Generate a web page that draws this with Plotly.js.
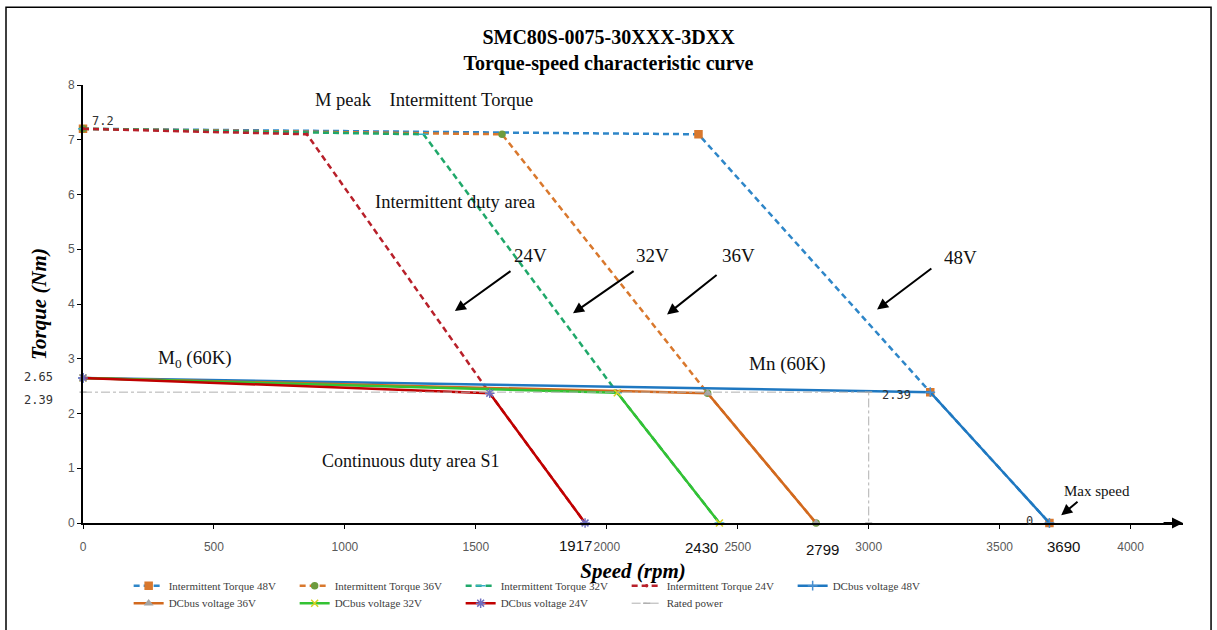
<!DOCTYPE html>
<html>
<head>
<meta charset="utf-8">
<script src="https://cdn.plot.ly/plotly-3.0.1.min.js"></script>
<style>html,body{margin:0;padding:0;background:#fff;}#chart{width:1217px;height:630px;}</style>
</head>
<body>
<div id="chart"></div>
<script>
// ---- data (speed rpm, torque Nm) ----
const seriesNames = ["Intermittent Torque 48V","Intermittent Torque 36V","Intermittent Torque 32V","Intermittent Torque 24V",
  "DCbus voltage 48V","DCbus voltage 36V","DCbus voltage 32V","DCbus voltage 24V","Rated power"];
const speedInt48 = [0, 2350, 3235, 3690];
const torqueInt48 = [7.2, 7.1, 2.39, 0];
const speedInt36 = [0, 1600, 2385, 2799];
const torqueInt36 = [7.2, 7.1, 2.37, 0];
const speedInt32 = [0, 1300, 2040, 2430];
const torqueInt32 = [7.2, 7.1, 2.38, 0];
const speedInt24 = [0, 855, 1553, 1917];
const torqueInt24 = [7.2, 7.1, 2.37, 0];
const speedDc48 = [0, 3235, 3690];
const torqueDc48 = [2.65, 2.39, 0];
const speedDc36 = [0, 2385, 2799];
const torqueDc36 = [2.65, 2.37, 0];
const speedDc32 = [0, 2040, 2430];
const torqueDc32 = [2.65, 2.38, 0];
const speedDc24 = [0, 1553, 1917];
const torqueDc24 = [2.65, 2.37, 0];
const speedRated = [0, 3000, 3000];
const torqueRated = [2.39, 2.39, 0];
const xTickVals = [0, 500, 1000, 1500, 2000, 2500, 3000, 3500, 4000];
const yTickVals = [0, 1, 2, 3, 4, 5, 6, 7, 8];
const maxSpeedLabels = [1917, 2430, 2799, 3690];

const serif = "Liberation Serif, Times New Roman, serif";
const sans = "Liberation Sans, Arial, sans-serif";
const mono = "DejaVu Sans Mono, monospace";

function tr(name, x, y, color, dash, width, msym, mcolor, msize, legend) {
  return {
    type: "scatter", mode: "lines+markers", name: name, x: x, y: y,
    line: {color: color, dash: dash, width: width},
    marker: {symbol: msym, color: mcolor, size: msize, line: {color: mcolor, width: 1.5}},
    legend: legend, cliponaxis: false
  };
}

const dashInt = "6px,4px";
const traces = [
  tr(seriesNames[0], speedInt48, torqueInt48, "#2E86C8", dashInt, 2.5, "square", "#D9782D", 7, "legend"),
  tr(seriesNames[1], speedInt36, torqueInt36, "#D9782D", dashInt, 2.5, "circle", "#6E9B3E", 6, "legend"),
  tr(seriesNames[2], speedInt32, torqueInt32, "#1FA86A", dashInt, 2.5, "line-ew-open", "#39B0C8", 7, "legend"),
  tr(seriesNames[3], speedInt24, torqueInt24, "#B8202A", dashInt, 2.5, "circle", "#B8202A", 2, "legend"),
  tr(seriesNames[4], speedDc48, torqueDc48, "#1F78C1", "solid", 2.5, "cross-thin-open", "#4A90D0", 7, "legend"),
  tr(seriesNames[5], speedDc36, torqueDc36, "#D2691E", "solid", 2.5, "triangle-up", "#A5A5A5", 6, "legend2"),
  tr(seriesNames[6], speedDc32, torqueDc32, "#33C233", "solid", 2.5, "x-thin-open", "#D8D020", 7, "legend2"),
  tr(seriesNames[7], speedDc24, torqueDc24, "#C00000", "solid", 2.5, "asterisk-open", "#6F6FC0", 8, "legend2"),
  tr(seriesNames[8], speedRated, torqueRated, "#B0B0B0", "dashdot", 1, "line-ew-open", "#B0B0B0", 5, "legend2")
];

function txt(text, x, y, size, font, extra) {
  return Object.assign({text: text, x: x, y: y, xref: "x", yref: "y", showarrow: false,
    font: {family: font, size: size, color: "#111"}}, extra || {});
}
function arr(x, y, ax, ay) {
  return {x: x, y: y, ax: ax, ay: ay, xref: "x", yref: "y", axref: "x", ayref: "y",
    text: "", showarrow: true, arrowhead: 2, arrowsize: 1.1, arrowwidth: 2, arrowcolor: "#000"};
}
function speedLabel(v, x, ypaper) {
  return {text: String(v), x: x, y: ypaper, xref: "x", yref: "paper", xanchor: "center", yanchor: "middle",
    showarrow: false, font: {family: sans, size: 15, color: "#111"}};
}
const monoFont = {family: mono, size: 12, color: "#333"};

const annotations = [
  txt("M peak    Intermittent Torque", 1302, 7.73, 18.5, serif),
  txt("Intermittent duty area", 1420, 5.86, 18.5, serif),
  txt("24V", 1707, 4.89, 19, serif),
  txt("32V", 2176, 4.89, 19, serif),
  txt("36V", 2501, 4.89, 19, serif),
  txt("48V", 3349, 4.85, 19, serif),
  arr(1420, 3.87, 1638, 4.62),
  arr(1871, 3.83, 2108, 4.62),
  arr(2230, 3.81, 2425, 4.55),
  arr(3032, 3.90, 3245, 4.67),
  txt("M<sub>0</sub> (60K)", 427, 3.0, 19, serif),
  txt("Mn (60K)", 2690, 2.91, 19, serif),
  txt("Continuous duty area S1", 1252, 1.13, 18, serif),
  txt("Max speed", 3870, 0.58, 15, serif),
  arr(3735, 0.14, 3803, 0.41),
  arr(4200, 0, 4120, 0),
  txt(String(torqueInt48[0]), 27, 7.35, 12, mono, {xanchor: "left", font: monoFont}),
  {text: String(torqueDc48[0]), x: -0.0255, y: 2.66, xref: "paper", yref: "y", xanchor: "right", showarrow: false, font: monoFont},
  {text: String(torqueRated[0]), x: -0.0255, y: 2.25, xref: "paper", yref: "y", xanchor: "right", showarrow: false, font: monoFont},
  txt(String(torqueRated[1]), 3042, 2.33, 12, mono, {xanchor: "left", font: monoFont}),
  txt("0", 3614, 0.03, 12, mono, {font: monoFont}),
  speedLabel(maxSpeedLabels[0], 1882, -0.052),
  speedLabel(maxSpeedLabels[1], 2363, -0.056),
  speedLabel(maxSpeedLabels[2], 2825, -0.061),
  speedLabel(maxSpeedLabels[3], 3742, -0.053)
];

const layout = {
  width: 1217, height: 630,
  paper_bgcolor: "#fff", plot_bgcolor: "#fff",
  margin: {l: 83, r: 34, t: 85, b: 100},
  title: {text: "<b>SMC80S-0075-30XXX-3DXX<br>Torque-speed characteristic curve</b>",
    font: {family: serif, size: 20, color: "#000"}, x: 0.5, xref: "container",
    y: 0.93, yref: "container", yanchor: "top"},
  xaxis: {range: [0, 4200], tickvals: xTickVals, showgrid: false, zeroline: false,
    showline: true, linecolor: "#000", linewidth: 2, ticks: "outside", ticklen: 4, tickcolor: "#000",
    ticklabelstandoff: 8,
    tickfont: {family: sans, size: 12, color: "#595959"},
    title: {text: "<b><i>Speed (rpm)</i></b>", font: {family: serif, size: 21, color: "#000"}, standoff: 10}},
  yaxis: {range: [0, 8], tickvals: yTickVals, showgrid: false, zeroline: false,
    showline: true, linecolor: "#000", linewidth: 2, ticks: "outside", ticklen: 4, tickcolor: "#000",
    tickfont: {family: sans, size: 12, color: "#595959"},
    title: {text: "<b><i>Torque (Nm)</i></b>", font: {family: serif, size: 21, color: "#000"}, standoff: 16}},
  legend: {orientation: "h", x: 0.0415, y: -0.11, xanchor: "left", yanchor: "top",
    entrywidth: 121, entrywidthmode: "pixels", font: {family: serif, size: 11, color: "#404040"}, bgcolor: "rgba(0,0,0,0)"},
  legend2: {orientation: "h", x: 0.0415, y: -0.15, xanchor: "left", yanchor: "top",
    entrywidth: 121, entrywidthmode: "pixels", font: {family: serif, size: 11, color: "#404040"}, bgcolor: "rgba(0,0,0,0)"},
  showlegend: true,
  annotations: annotations,
  shapes: [{type: "rect", xref: "paper", yref: "paper", x0: -0.07, x1: 1.0255, y0: -0.25, y1: 1.1775,
    line: {color: "#000", width: 1.5}, fillcolor: "rgba(0,0,0,0)", layer: "below"}]
};

Plotly.newPlot("chart", traces, layout, {displayModeBar: false, staticPlot: true});
</script>
</body>
</html>
